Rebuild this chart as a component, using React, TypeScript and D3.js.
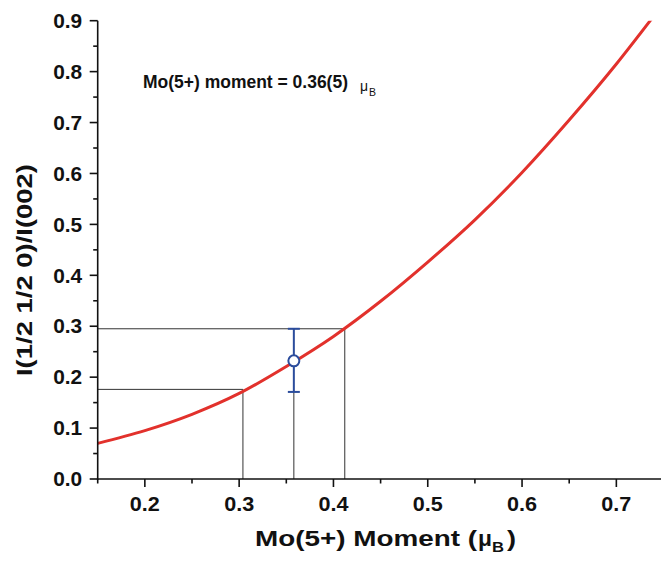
import React from 'react';
import * as d3 from 'd3';

// Fitted curve: moment (μB) vs intensity ratio
const curveMoment = [0.15, 0.2, 0.25, 0.3, 0.35, 0.4, 0.45, 0.5, 0.55, 0.6, 0.65, 0.7, 0.74];
const curveRatio = [0.070, 0.095, 0.127, 0.168, 0.221, 0.280, 0.349, 0.426, 0.509, 0.602, 0.705, 0.815, 0.91];

// Measured point with error bar
const pointMoment = [0.358];
const pointRatio = [0.232];
const pointErrLow = [0.171];
const pointErrHigh = [0.295];

// Guide lines (lower bound, upper bound)
const guideMoment = [0.304, 0.412];
const guideRatio = [0.176, 0.295];

const xTicks = [0.2, 0.3, 0.4, 0.5, 0.6, 0.7];
const xMinorTicks = [0.15, 0.25, 0.35, 0.45, 0.55, 0.65, 0.75];
const yTicks = [0.0, 0.1, 0.2, 0.3, 0.4, 0.5, 0.6, 0.7, 0.8, 0.9];
const yMinorTicks = [0.05, 0.15, 0.25, 0.35, 0.45, 0.55, 0.65, 0.75, 0.85];

const W = 661;
const H = 567;
const left = 97.7;
const right = 663.5;
const top = 20.7;
const bottom = 479;

export default function App() {
  const x = d3.scaleLinear().domain([0.15, 0.75]).range([left, right]);
  const y = d3.scaleLinear().domain([0, 0.9]).range([bottom, top]);
  const pts = curveMoment.map((m, i) => [m, curveRatio[i]] as [number, number]);
  const line = d3
    .line<[number, number]>()
    .x((d) => x(d[0]))
    .y((d) => y(d[1]))
    .curve(d3.curveMonotoneX);

  const font = 'Liberation Sans, Arial, sans-serif';
  const guideColor = '#333';
  const blue = '#2b4c9c';
  const red = '#e2312c';

  return (
    <svg
      width={W}
      height={H}
      style={{ position: 'absolute', left: 0, top: 0, background: '#fff' }}
      fontFamily={font}
    >
      <defs>
        <clipPath id="plotclip">
          <rect x={left} y={top} width={right - left} height={bottom - top} />
        </clipPath>
      </defs>

      {/* guide lines */}
      {guideMoment.map((m, i) => (
        <g key={'g' + i} stroke={guideColor} strokeWidth={1}>
          <line x1={x(0.15)} x2={x(m)} y1={y(guideRatio[i])} y2={y(guideRatio[i])} />
          <line x1={x(m)} x2={x(m)} y1={y(guideRatio[i])} y2={y(0)} />
        </g>
      ))}
      {pointMoment.map((m, i) => (
        <line
          key={'pv' + i}
          x1={x(m)}
          x2={x(m)}
          y1={y(pointErrLow[i])}
          y2={y(0)}
          stroke={guideColor}
          strokeWidth={1}
        />
      ))}

      {/* curve */}
      <path
        d={line(pts) || ''}
        fill="none"
        stroke={red}
        strokeWidth={3}
        clipPath="url(#plotclip)"
      />

      {/* error bar + point */}
      {pointMoment.map((m, i) => (
        <g key={'p' + i} stroke={blue} strokeWidth={2}>
          <line x1={x(m)} x2={x(m)} y1={y(pointErrLow[i])} y2={y(pointErrHigh[i])} />
          <line x1={x(m) - 6} x2={x(m) + 6} y1={y(pointErrLow[i])} y2={y(pointErrLow[i])} />
          <line x1={x(m) - 6} x2={x(m) + 6} y1={y(pointErrHigh[i])} y2={y(pointErrHigh[i])} />
          <circle cx={x(m)} cy={y(pointRatio[i])} r={5.5} fill="#fff" />
        </g>
      ))}

      {/* axes */}
      <g stroke="#111" strokeWidth={1.6}>
        <line x1={left} x2={left} y1={top} y2={bottom + 0.8} />
        <line x1={left - 0.8} x2={W} y1={bottom} y2={bottom} />
        {yTicks.map((t) => (
          <line key={'yt' + t} x1={left - 8} x2={left} y1={y(t)} y2={y(t)} />
        ))}
        {yMinorTicks.map((t) => (
          <line key={'ym' + t} x1={left - 4.5} x2={left} y1={y(t)} y2={y(t)} />
        ))}
        {xTicks.map((t) => (
          <line key={'xt' + t} x1={x(t)} x2={x(t)} y1={bottom} y2={bottom + 8} />
        ))}
        {xMinorTicks.map((t) => (
          <line key={'xm' + t} x1={x(t)} x2={x(t)} y1={bottom} y2={bottom + 4.5} />
        ))}
      </g>

      {/* tick labels */}
      <g fontWeight="bold" fontSize={20} fill="#111">
        {yTicks.map((t) => (
          <text
            key={'yl' + t}
            x={left - 15.5}
            y={y(t)}
            dy="0.36em"
            textAnchor="end"
            textLength={29}
            lengthAdjust="spacingAndGlyphs"
          >
            {d3.format('.1f')(t)}
          </text>
        ))}
        {xTicks.map((t) => (
          <text
            key={'xl' + t}
            x={x(t)}
            y={511}
            textAnchor="middle"
            textLength={30}
            lengthAdjust="spacingAndGlyphs"
          >
            {d3.format('.1f')(t)}
          </text>
        ))}
      </g>

      {/* x axis title */}
      <g fontWeight="bold" fill="#111">
        <text x={255} y={546} fontSize={22} textLength={222} lengthAdjust="spacingAndGlyphs">
          Mo(5+) Moment (
        </text>
        <text x={478} y={546} fontSize={22} textLength={14} lengthAdjust="spacingAndGlyphs">
          μ
        </text>
        <text x={492} y={552} fontSize={14} textLength={12} lengthAdjust="spacingAndGlyphs">
          B
        </text>
        <text x={507} y={546} fontSize={22} textLength={9} lengthAdjust="spacingAndGlyphs">
          )
        </text>
      </g>

      {/* y axis title */}
      <text
        transform={`translate(31.5, 270) rotate(-90)`}
        textAnchor="middle"
        fontWeight="bold"
        fontSize={22}
        fill="#111"
        textLength={212}
        lengthAdjust="spacingAndGlyphs"
      >
        I(1/2 1/2 0)/I(002)
      </text>

      {/* annotation */}
      <g fill="#111">
        <text x={143} y={88} fontSize={18} textLength={205} lengthAdjust="spacingAndGlyphs" fontWeight="bold">
          Mo(5+) moment = 0.36(5)
        </text>
        <text x={360} y={91} fontSize={14}>
          μ
        </text>
        <text x={369} y={96} fontSize={10.5}>
          B
        </text>
      </g>
    </svg>
  );
}
